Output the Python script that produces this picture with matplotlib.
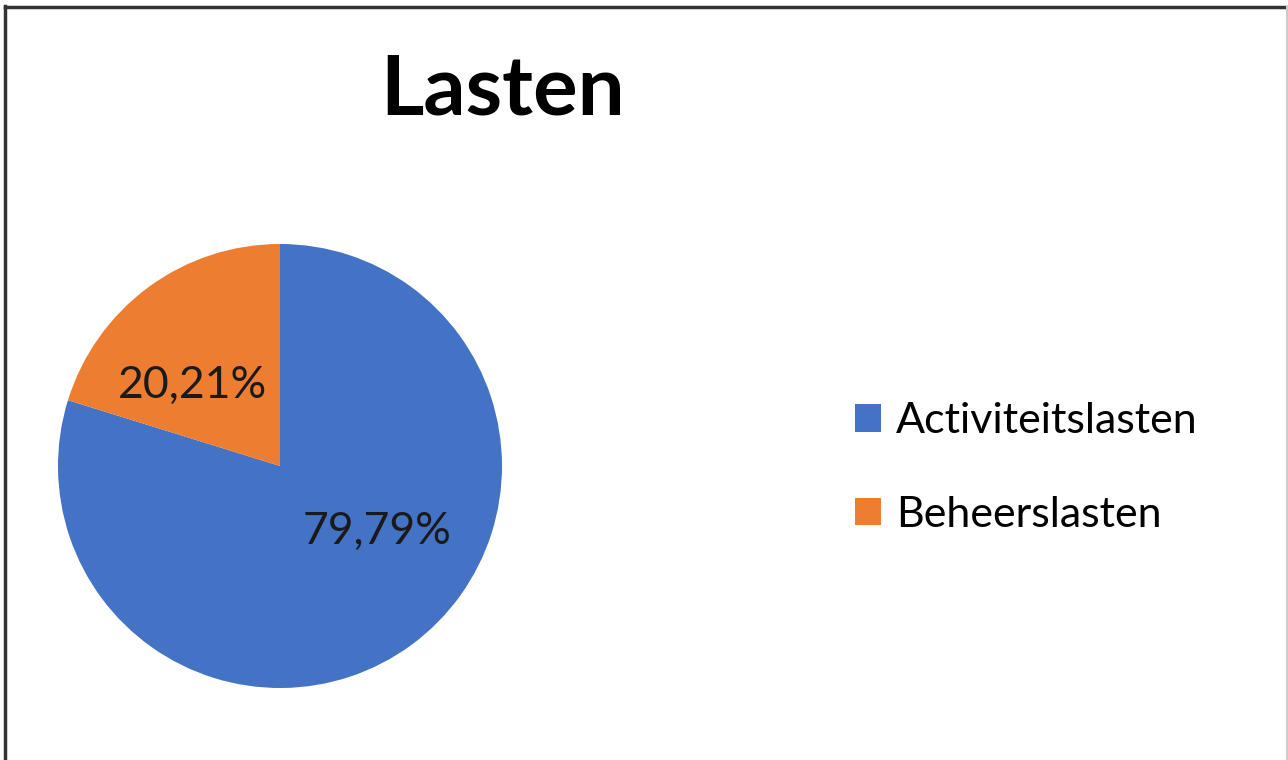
import matplotlib
matplotlib.use("Agg")
import matplotlib.pyplot as plt
from matplotlib.lines import Line2D

categories = ["Activiteitslasten", "Beheerslasten"]
values = [79.79, 20.21]
labels = ["79,79%", "20,21%"]
colors = ["#4472C4", "#ED7D31"]
title = "Lasten"

W, H = 1288, 760
fig = plt.figure(figsize=(W / 100, H / 100), dpi=100)
fig.patch.set_facecolor("white")

cx, cy, r = 280, 466, 222
ax = fig.add_axes([(cx - r) / W, (H - cy - r) / H, 2 * r / W, 2 * r / H])
wedges, _ = ax.pie(values, colors=colors, startangle=90, counterclock=False,
                   radius=1.0, wedgeprops=dict(linewidth=0))
ax.set_xlim(-1, 1)
ax.set_ylim(-1, 1)
ax.set_aspect("equal")
ax.axis("off")

def to_data(px, py):
    return ((px - cx) / r, (cy - py) / r)

lab_pos = [(377, 531), (193, 385)]
for lab, (px, py) in zip(labels, lab_pos):
    x, y = to_data(px, py)
    ax.text(x, y, lab, ha="center", va="center", fontsize=32,
            family=["Lato", "DejaVu Sans"], color="#1a1a1a")

fig.text(503 / W, 1 - 91 / H, title, ha="center", va="center",
         fontsize=60, fontweight="bold", family=["Lato", "DejaVu Sans"],
         color="#000000")

leg = fig.legend(wedges, categories, loc="center left",
                 bbox_to_anchor=(838 / W, 1 - 468 / H), frameon=False,
                 borderaxespad=0,
                 prop=dict(family="Lato", size=31),
                 handlelength=0.6, handleheight=0.6, handletextpad=0.35,
                 labelspacing=1.3)

# frame
fig.add_artist(Line2D([5 / W, 5 / W], [0, 1 - 6 / H], transform=fig.transFigure,
                      color="#333333", linewidth=2.5))
fig.add_artist(Line2D([5 / W, 1], [1 - 7 / H, 1 - 7 / H], transform=fig.transFigure,
                      color="#333333", linewidth=2.5))
fig.add_artist(Line2D([1287 / W, 1287 / W], [0, 1 - 7 / H], transform=fig.transFigure,
                      color="#cccccc", linewidth=1.5))

fig.savefig("out.png", dpi=100, facecolor="white")
